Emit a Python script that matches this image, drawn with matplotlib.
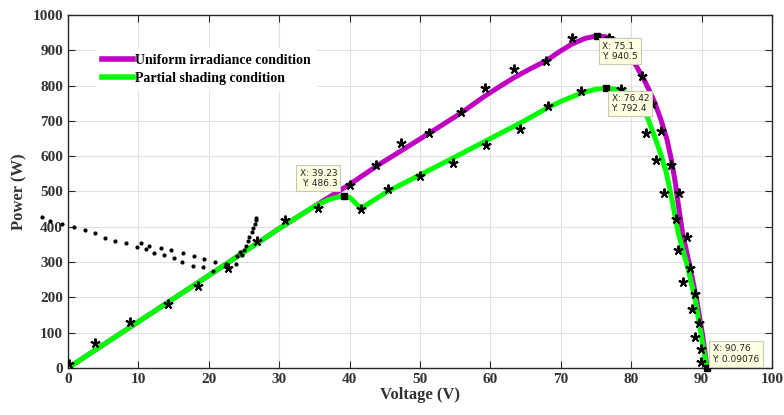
import matplotlib
matplotlib.use('Agg')
import matplotlib.pyplot as plt

# uniform irradiance P-V curve
uni_v = [0, 10, 20, 30, 35, 40, 44.3, 47.3, 51.3, 55.8, 59.2, 61.3, 63.4, 65.7, 67.9, 69.8, 71.6,
         73.5, 75.1, 76.4, 77.5, 78.5, 79.4, 80.8, 82.0, 83.2, 84.2, 85.1, 85.7, 86.2, 86.6,
         87.3, 88.35, 89.3, 90.1, 90.8]
uni_p = [0, 131, 262, 395, 458, 520, 578, 615, 665, 722, 770, 797, 823, 848, 870, 896, 918,
         934, 940.5, 938, 931, 918, 900, 853, 810, 759, 705, 646, 590, 533, 476,
         381, 287, 193, 98, 0]

# partial shading P-V curve
psc_v = [0, 10, 20, 30, 35, 37, 38.3, 39.23, 40.1, 40.8, 41.6, 43.5, 45.4, 50, 55, 60, 65, 68.2,
         70, 72.8, 75, 76.42, 78, 79.4, 80.3, 81.1, 82.3, 83.5, 84.3, 85.0, 85.8, 86.7, 88.0,
         89.1, 89.9, 90.76]
psc_p = [0, 131, 262, 395, 458, 477, 484, 486.3, 482, 468, 452, 476, 500, 547, 598, 650, 702,
         738, 755, 778, 790, 792.4, 789, 778, 770, 755, 710, 646, 600, 552, 476, 381, 287,
         193, 98, 0.09]

# measured points (asterisks)
star_v = [0.2, 3.8, 8.8, 14.2, 18.5, 22.8, 26.8, 30.8, 35.5, 41.6, 40.1, 43.7, 45.4, 47.3, 51.3,
          50, 55.8, 54.7, 59.2, 59.4, 63.4, 64.2, 67.9, 68.2, 71.6, 72.8, 76.8, 78.5, 81.5, 83.0,
          82.1, 84.2, 83.5, 85.6, 84.7, 86.8, 86.3, 87.9, 86.7, 88.4, 87.3, 89.1, 88.6, 89.6,
          89.1, 89.9, 89.9]
star_p = [11, 70, 129, 181, 232, 282, 361, 419, 452, 450, 518, 575, 506, 638, 667,
          545, 724, 580, 792, 632, 847, 676, 871, 742, 934, 786, 934, 790, 827, 747,
          665, 671, 589, 575, 495, 497, 422, 370, 334, 282, 243, 209, 166, 127,
          87, 53, 18]

# dotted tracking traces
trk1_v = [0.9, 2.4, 3.9, 5.3, 6.7, 8.2, 9.8, 11.1, 12.2, 13.6, 15.1, 16.2, 17.7, 19.2, 20.6,
          22.9, 23.9, 24.7]
trk1_p = [399, 391, 382, 369, 361, 355, 343, 336, 325, 320, 311, 299, 290, 287, 276,
          282, 294, 320]
trk2_v = [-3.7, -2.6, -0.9, 10.4, 11.5, 13.2, 14.7, 16.3, 17.9, 19.3, 20.9, 22.5, 24.0, 24.4,
          25.0, 25.3, 25.6, 25.7, 26.1, 26.3, 26.5, 26.7, 26.7]
trk2_p = [427, 417, 407, 355, 346, 339, 334, 325, 317, 308, 299, 294, 318, 329,
          334, 346, 360, 372, 384, 396, 407, 419, 426]

# data tips
tip_v = [39.23, 75.1, 76.42, 90.76]
tip_p = [486.3, 940.5, 792.4, 0.09]
tip_txt = ['X: 39.23\nY: 486.3', 'X: 75.1\nY: 940.5', 'X: 76.42\nY: 792.4', 'X: 90.76\nY: 0.09076']

fig = plt.figure(figsize=(7.84, 4.15), dpi=100)
ax = fig.add_axes([0.0867, 0.1133, 0.898, 0.8506])

ax.plot(uni_v, uni_p, color='#c000c0', lw=3.6, label='Uniform irradiance condition', zorder=3)
ax.plot(psc_v, psc_p, color='#00ff00', lw=3.6, label='Partial shading condition', zorder=4)
ax.plot(star_v, star_p, ls='none', marker=(5, 2, 0), ms=7, mew=1.4, color='k', zorder=6)
for tv, tp in [(trk1_v, trk1_p), (trk2_v, trk2_p)]:
    ax.plot(tv, tp, ls='none', marker='o', ms=2.0, color='k', clip_on=False, zorder=5)

ax.plot(tip_v, tip_p, ls='none', marker='s', ms=4.5, color='k', zorder=8, clip_on=False)
offsets = [((-5, 6), 'right', 'bottom'), ((4, -4), 'left', 'top'),
           ((4, -4), 'left', 'top'), ((4, 3), 'left', 'bottom')]
for v, p, t, (off, ha, va) in zip(tip_v, tip_p, tip_txt, offsets):
    ax.annotate(t, (v, p), xytext=off, textcoords='offset points', ha=ha, va=va,
                fontsize=6.5, family='DejaVu Sans', color='#222222', zorder=9,
                bbox=dict(boxstyle='square,pad=0.35', fc='#ffffe1', ec='#c8c8b4', lw=0.8))

ax.set_xlim(0, 100)
ax.set_ylim(0, 1000)
ax.set_xticks(range(0, 101, 10))
ax.set_yticks(range(0, 1001, 100))
ax.grid(True, color='#e0e0e0', lw=0.8)
ax.set_axisbelow(True)
ax.tick_params(direction='in', top=True, right=True, length=5, width=0.8, colors='#262626',
               labelsize=11)
for lab in ax.get_xticklabels() + ax.get_yticklabels():
    lab.set_family('Liberation Serif')
    lab.set_fontweight('bold')
    lab.set_color('#333333')
for s in ax.spines.values():
    s.set_color('#262626')
    s.set_linewidth(1)

ax.set_xlabel('Voltage (V)', family='Liberation Serif', fontweight='bold', fontsize=12,
              color='#333333', labelpad=1)
ax.set_ylabel('Power (W)', family='Liberation Serif', fontweight='bold', fontsize=12,
              color='#333333', labelpad=4)

leg = ax.legend(loc='upper left', bbox_to_anchor=(0.041, 0.905), borderaxespad=0,
                handlelength=2.2, handletextpad=0.15, labelspacing=0.35, fancybox=False,
                framealpha=1, edgecolor='white',
                prop={'family': 'Liberation Serif', 'weight': 'bold', 'size': 10})
for h in leg.get_lines():
    h.set_linewidth(4)
leg.set_zorder(10)

fig.savefig('out.png', dpi=100)
